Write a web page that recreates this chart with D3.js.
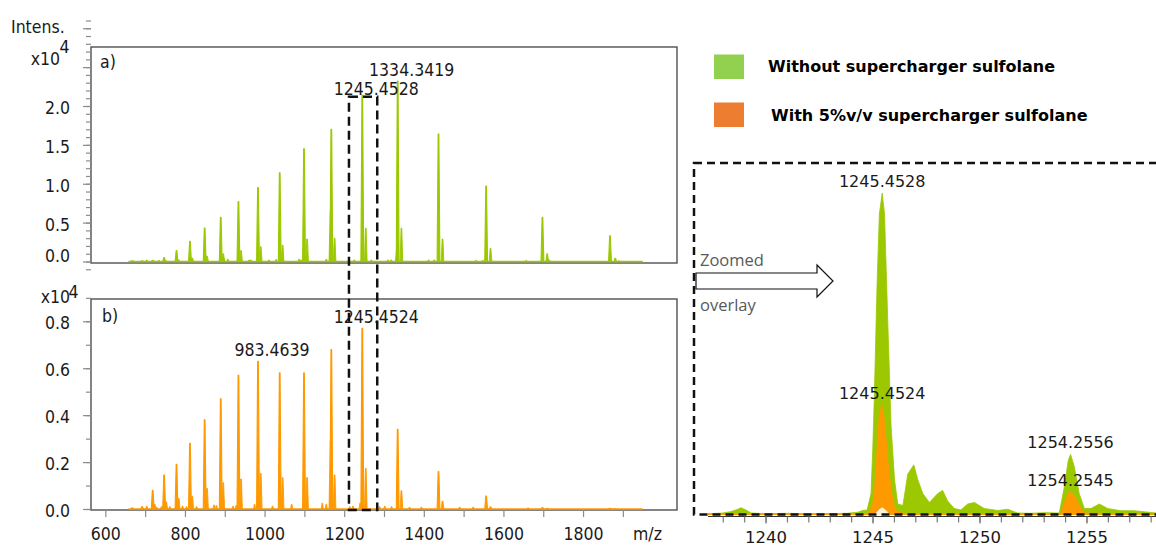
<!DOCTYPE html>
<html>
<head>
<meta charset="utf-8">
<script src="https://cdn.jsdelivr.net/npm/d3@7"></script>
<style>
  html, body { margin: 0; padding: 0; background: #fff; }
  svg { display: block; }
  .ms { font-family: "DejaVu Sans Condensed", "Liberation Sans", sans-serif; font-size: 17.5px; fill: #1a1a1a; }
  .zoomtxt { font-family: "DejaVu Sans", sans-serif; font-size: 16px; fill: #1a1a1a; }
  .legend { font-family: "DejaVu Sans", sans-serif; font-weight: bold; font-size: 16px; fill: #000; }
  .note { font-family: "Open Sans", sans-serif; font-size: 16.5px; fill: #595959; }
</style>
</head>
<body>
<svg id="chart" width="1156" height="545"></svg>
<script>
// ---------- Overview spectra: charge-state series z = 28 ... 10 (m/z, intensity x10^4) ----------
const mzA = [667.68, 692.37, 718.96, 747.68, 778.79, 812.60, 849.49, 889.90, 934.34, 983.46,
             1038.04, 1099.05, 1167.68, 1245.4528, 1334.3419, 1436.91, 1556.56, 1697.98, 1867.68];
const intensA = [0.01, 0.01, 0.015, 0.05, 0.14, 0.26, 0.43, 0.57, 0.77, 0.95,
                 1.14, 1.45, 1.70, 2.14, 2.32, 1.64, 0.97, 0.57, 0.33];

const mzB = [667.68, 692.37, 718.96, 747.68, 778.79, 812.60, 849.49, 889.90, 934.34, 983.4639,
             1038.04, 1099.05, 1167.68, 1245.4524, 1334.34, 1436.91, 1556.56, 1697.98, 1867.68];
const intensB = [0.005, 0.01, 0.08, 0.145, 0.19, 0.28, 0.38, 0.47, 0.57, 0.63,
                 0.58, 0.58, 0.68, 0.77, 0.34, 0.16, 0.055, 0.006, 0.003];

// adduct series (+132 Da) for z = 26 ... 10
const mzAdductA = [724.04, 752.96, 784.29, 818.34, 855.49, 896.19, 940.94, 990.41, 1045.38,
                   1106.82, 1175.93, 1254.2556, 1343.77, 1447.07, 1567.56, 1709.98, 1880.88];
const adductA = [0.005, 0.01, 0.02, 0.045, 0.07, 0.10, 0.14, 0.19, 0.21,
                 0.29, 0.30, 0.43, 0.43, 0.29, 0.17, 0.10, 0.045];
const mzAdductB = [724.04, 752.96, 784.29, 818.34, 855.49, 896.19, 940.94, 990.41, 1045.38,
                   1106.82, 1175.93, 1254.2545, 1343.77, 1447.07, 1567.56, 1709.98, 1880.88];
const adductB = [0.02, 0.03, 0.045, 0.055, 0.088, 0.112, 0.128, 0.152, 0.134,
                 0.134, 0.145, 0.173, 0.078, 0.034, 0.01, 0.004, 0.002];

// unresolved shoulders on the low-m/z side
const mzShoulderA = [1165.9, 1332.6];
const shoulderA = [0.65, 0.16];
const mzShoulderB = [1165.9];
const shoulderB = [0.29];

// small background signals
const mzNoiseA = [704, 735, 898, 908, 961, 966, 1011, 1029, 1087, 1092, 1155, 1225, 1268,
                  1310, 1318, 1412, 1426, 1531, 1548, 1657, 1715, 1890];
const noiseA = [0.02, 0.015, 0.04, 0.03, 0.02, 0.02, 0.02, 0.025, 0.03, 0.02, 0.03, 0.02, 0.02,
                0.02, 0.02, 0.02, 0.02, 0.015, 0.015, 0.015, 0.02, 0.01];
const mzNoiseB = [704, 729, 741, 762, 794, 804, 829, 873, 879, 921, 929, 975, 1020, 1068,
                  1145, 1155, 1214, 1222, 1240, 1289, 1302, 1319, 1364, 1394, 1490, 1524, 1662];
const noiseB = [0.012, 0.008, 0.01, 0.01, 0.012, 0.01, 0.01, 0.017, 0.015, 0.012, 0.015, 0.02, 0.012, 0.02,
                0.025, 0.02, 0.01, 0.012, 0.025, 0.01, 0.012, 0.01, 0.008, 0.008, 0.008, 0.008, 0.005];

const acquiredRange = [658, 1950];   // m/z span of the recorded trace

const peakLabelsA = ["1334.3419", "1245.4528"];
const peakLabelsB = ["983.4639", "1245.4524"];

// m/z window and height of the region shown in the zoomed overlay
const zoomWindowMz = [1212, 1283];
const zoomWindowTop = 2.12;

// axis ticks
const ticksA = [0.0, 0.5, 1.0, 1.5, 2.0];
const ticksB = [0.0, 0.2, 0.4, 0.6, 0.8];
const ticksMz = [600, 800, 1000, 1200, 1400, 1600, 1800];
const ticksMzMinor = [700, 900, 1100, 1300, 1500, 1700, 1900];
const ticksZoom = [1240, 1245, 1250, 1255];

// ---------- Zoomed overlay: profile data around the z = 15 ion ----------
const zoomGreenMz = [1237.31, 1238.0, 1238.4, 1238.70, 1238.85, 1239.09, 1239.32, 1240.0, 1241.0, 1242.0,
  1243.0, 1243.8, 1244.3, 1244.54, 1244.75, 1244.93, 1245.01, 1245.08, 1245.21, 1245.32,
  1245.4528, 1245.56, 1245.72, 1245.87, 1246.03, 1246.18, 1246.42, 1246.65, 1246.93, 1247.12,
  1247.35, 1247.66, 1248.05, 1248.28, 1248.51, 1248.82, 1249.13, 1249.45, 1249.76, 1250.22,
  1250.85, 1251.32, 1251.78, 1252.41, 1253.03, 1253.73, 1253.96, 1254.15, 1254.2556, 1254.43,
  1254.66, 1254.90, 1255.21, 1255.60, 1255.99, 1256.61, 1257.23, 1258.25];
const zoomGreenInt = [0.005, 0.01, 0.02, 0.035, 0.045, 0.03, 0.01, 0.005, 0.008, 0.005,
  0.006, 0.008, 0.015, 0.027, 0.03, 0.14, 0.43, 0.76, 1.52, 2.0,
  2.14, 2.0, 1.25, 0.58, 0.23, 0.07, 0.06, 0.27, 0.33, 0.23,
  0.14, 0.08, 0.14, 0.16, 0.09, 0.04, 0.03, 0.07, 0.08, 0.04,
  0.027, 0.035, 0.01, 0.008, 0.012, 0.01, 0.18, 0.36, 0.40, 0.32,
  0.14, 0.04, 0.04, 0.07, 0.04, 0.025, 0.025, 0.01];

const zoomOrangeMz = [1237.31, 1240.0, 1243.0, 1244.6, 1244.85, 1245.00, 1245.08, 1245.21, 1245.32, 1245.4524,
  1245.56, 1245.72, 1245.87, 1246.03, 1246.18, 1246.5, 1248.0, 1250.0, 1252.0, 1253.80,
  1254.00, 1254.15, 1254.2545, 1254.43, 1254.66, 1254.90, 1256.0, 1258.25];
const zoomOrangeInt = [0.004, 0.005, 0.005, 0.006, 0.01, 0.07, 0.14, 0.43, 0.67, 0.73,
  0.63, 0.36, 0.16, 0.05, 0.015, 0.008, 0.005, 0.006, 0.005, 0.005,
  0.09, 0.14, 0.15, 0.13, 0.06, 0.01, 0.006, 0.004];

const zoomBlankMz = [1245.1, 1245.3, 1245.45, 1245.6, 1245.8];
const zoomBlankInt = [0, 0.03, 0.045, 0.03, 0];

const zoomLabelsGreen = ["1245.4528", "1254.2556"];
const zoomLabelsOrange = ["1245.4524", "1254.2545"];

const legendItems = ["Without supercharger sulfolane", "With 5%v/v supercharger sulfolane"];
const legendColors = ["#92d050", "#ed7d31"];

// ---------- layout ----------
const GREEN = "#9bc800", ORANGE = "#ff9900";
const frameA = { x0: 91, x1: 677, y0: 47, y1: 263 };
const frameB = { x0: 91, x1: 677, y0: 299, y1: 510 };
const zoomBox = { x0: 694, y0: 163, x1: 1162, y1: 514.5 };

const svg = d3.select("#chart");

const xOver = d3.scaleLinear().domain([564, 2036]).range([frameA.x0, frameA.x1]);
const yA = d3.scaleLinear().domain([0, 2]).range([261.5, 106]);
const yB = d3.scaleLinear().domain([0, 0.8]).range([509, 321.3]);
const xZoom = d3.scaleLinear().domain([1237.31, 1258.25]).range([708, 1156]);
const yZoom = d3.scaleLinear().domain([0, 2.14]).range([514.5, 193]);

// frames
[frameA, frameB].forEach(f => {
  svg.append("rect").attr("x", f.x0).attr("y", f.y0)
    .attr("width", f.x1 - f.x0).attr("height", f.y1 - f.y0)
    .attr("fill", "none").attr("stroke", "#505050").attr("stroke-width", 1.4);
});

// one centroid peak as a narrow spike
function spike(y, mz, v, hw) {
  const x = xOver(mz), b = y(0), t = y(v);
  return `M${x - hw},${b}L${x - 0.35},${t}L${x + 0.35},${t}L${x + hw},${b}Z`;
}

function drawSpectrum(y, color, sets) {
  const g = svg.append("g");
  g.append("line")
    .attr("x1", xOver(acquiredRange[0])).attr("x2", xOver(acquiredRange[1]))
    .attr("y1", y(0)).attr("y2", y(0))
    .attr("stroke", color).attr("stroke-width", 1.6);
  sets.forEach(s => {
    g.selectAll(null).data(d3.zip(s.mz, s.v)).join("path")
      .attr("d", d => spike(y, d[0], d[1], s.hw))
      .attr("fill", color).attr("stroke", color)
      .attr("stroke-width", s.sw).attr("stroke-linejoin", "round");
  });
  return g;
}

drawSpectrum(yA, GREEN, [
  { mz: mzNoiseA, v: noiseA, hw: 1.0, sw: 0.8 },
  { mz: mzShoulderA, v: shoulderA, hw: 1.6, sw: 0.8 },
  { mz: mzAdductA, v: adductA, hw: 1.3, sw: 0.9 },
  { mz: mzA, v: intensA, hw: 1.4, sw: 1.1 }
]);
drawSpectrum(yB, ORANGE, [
  { mz: mzNoiseB, v: noiseB, hw: 1.0, sw: 0.8 },
  { mz: mzShoulderB, v: shoulderB, hw: 1.6, sw: 0.8 },
  { mz: mzAdductB, v: adductB, hw: 1.3, sw: 0.9 },
  { mz: mzB, v: intensB, hw: 1.4, sw: 1.1 }
]);

// intensity axes
function intensityAxis(scale, minor, major, labels, floorY) {
  const x0 = frameA.x0;
  svg.append("g").attr("transform", `translate(${x0},0)`)
    .call(d3.axisLeft(scale).tickValues(minor).tickSize(5).tickFormat(""))
    .call(a => a.select(".domain").remove())
    .call(a => a.selectAll("line").attr("stroke", "#8c8c8c").attr("stroke-width", 1.2));
  const g = svg.append("g").attr("transform", `translate(${x0},0)`)
    .call(d3.axisLeft(scale).tickValues(major).tickSize(8).tickPadding(13)
      .tickFormat(d => labels.some(l => Math.abs(l - d) < 1e-9) ? d3.format(".1f")(d) : ""))
    .call(a => a.select(".domain").remove())
    .call(a => a.selectAll("line").attr("stroke", "#8c8c8c").attr("stroke-width", 1.2));
  g.selectAll("text")
    .attr("class", "ms").attr("fill", null)
    .attr("dy", null)
    .attr("y", d => Math.min(7.5, floorY - scale(d)));
  g.attr("font-size", null).attr("font-family", null);
}
const minorA = d3.range(-1, 32).map(i => i / 10);
const majorA = d3.range(0, 7).map(i => i / 2);
intensityAxis(yA, minorA, majorA, ticksA, frameA.y1 - 2);
const minorB = d3.range(0, 10).map(i => i / 10);
const majorB = d3.range(0, 5).map(i => i / 5);
intensityAxis(yB, minorB, majorB, ticksB, 999);

// m/z axis under panel b
{
  svg.append("g").attr("transform", `translate(0,${frameB.y1})`)
    .call(d3.axisBottom(xOver).tickValues(ticksMzMinor).tickSize(7).tickFormat(""))
    .call(a => a.select(".domain").remove())
    .call(a => a.selectAll("line").attr("stroke", "#8c8c8c").attr("stroke-width", 1.2));
  const g = svg.append("g").attr("transform", `translate(0,${frameB.y1})`)
    .call(d3.axisBottom(xOver).tickValues(ticksMz).tickSize(7).tickFormat(d3.format("d")))
    .call(a => a.select(".domain").remove())
    .call(a => a.selectAll("line").attr("stroke", "#8c8c8c").attr("stroke-width", 1.2));
  g.attr("font-size", null).attr("font-family", null);
  g.selectAll("text").attr("class", "ms").attr("fill", null).attr("dy", null).attr("y", 30);
  svg.append("text").attr("class", "ms").attr("x", 633).attr("y", frameB.y1 + 30).text("m/z");
}

// axis titles and panel tags
svg.append("text").attr("class", "ms").attr("x", 11).attr("y", 32.5).text("Intens.");
svg.append("text").attr("class", "ms").attr("x", 60).attr("y", 65).attr("text-anchor", "end").text("x10");
svg.append("text").attr("class", "ms").attr("x", 59.5).attr("y", 53).text("4");
svg.append("text").attr("class", "ms").attr("x", 70).attr("y", 303).attr("text-anchor", "end").text("x10");
svg.append("text").attr("class", "ms").attr("x", 68.5).attr("y", 298).text("4");
svg.append("text").attr("class", "ms").attr("x", 100).attr("y", 68).text("a)");
svg.append("text").attr("class", "ms").attr("x", 102).attr("y", 322).text("b)");

// peak annotations (centroid m/z); a label that would collide with an
// earlier one is dropped by one line
function annotate(labels, mzs, vals, y) {
  const placed = [];
  labels.forEach(lbl => {
    const i = mzs.findIndex(m => Math.abs(m - +lbl) < 1e-6);
    const t = svg.append("text").attr("class", "ms")
      .attr("x", xOver(mzs[i])).attr("dx", 14)
      .attr("text-anchor", "middle").text(lbl);
    let base = y(vals[i]) - 5;
    t.attr("y", base);
    let bb = t.node().getBBox();
    placed.forEach(p => {
      const overlapX = bb.x < p.x + p.width && p.x < bb.x + bb.width;
      const overlapY = bb.y < p.y + p.height && p.y < bb.y + bb.height;
      if (overlapX && overlapY) {
        base = p.base + 19;
        t.attr("y", base);
        bb = t.node().getBBox();
      }
    });
    placed.push({ x: bb.x, y: bb.y, width: bb.width, height: bb.height, base });
  });
}
annotate(peakLabelsA, mzA, intensA, yA);
annotate(peakLabelsB, mzB, intensB, yB);

// dashed window spanning both panels
svg.append("rect")
  .attr("x", xOver(zoomWindowMz[0])).attr("y", yA(zoomWindowTop))
  .attr("width", xOver(zoomWindowMz[1]) - xOver(zoomWindowMz[0]))
  .attr("height", frameB.y1 - yA(zoomWindowTop))
  .attr("fill", "none").attr("stroke", "#111").attr("stroke-width", 2.5)
  .attr("stroke-dasharray", "9,5");

// ---------- zoomed overlay ----------
const area = d3.area().x(d => xZoom(d[0])).y0(yZoom(0)).y1(d => yZoom(d[1]));
const gz = svg.append("g");
[[zoomGreenMz, zoomGreenInt, GREEN], [zoomOrangeMz, zoomOrangeInt, ORANGE], [zoomBlankMz, zoomBlankInt, "#fbf1e1"]]
  .forEach(([m, v, c]) => {
    gz.append("path").datum(d3.zip(m, v)).attr("d", area)
      .attr("fill", c).attr("stroke", c).attr("stroke-width", 0.8);
  });

// overlay m/z axis
{
  const ay = 516.5;
  svg.append("line").attr("x1", xZoom.range()[0]).attr("x2", xZoom.range()[1])
    .attr("y1", ay).attr("y2", ay).attr("stroke", "#333").attr("stroke-width", 1);
  svg.append("g").attr("transform", `translate(0,${ay})`)
    .call(d3.axisBottom(xZoom).tickValues(d3.range(1238, 1259)).tickSize(6).tickFormat(""))
    .call(a => a.select(".domain").remove())
    .call(a => a.selectAll("line").attr("stroke", "#7a7a7a").attr("stroke-width", 1.2));
  const g = svg.append("g").attr("transform", `translate(0,${ay})`)
    .call(d3.axisBottom(xZoom).tickValues(ticksZoom).tickSize(7).tickFormat(d3.format("d")))
    .call(a => a.select(".domain").remove())
    .call(a => a.selectAll("line").attr("stroke", "#7a7a7a").attr("stroke-width", 1.2));
  g.attr("font-size", null).attr("font-family", null);
  g.selectAll("text").attr("class", "zoomtxt").attr("fill", null)
    .style("font-size", "16.5px").attr("dy", null).attr("y", 26);
}

function annotateZoom(labels, mzs, vals) {
  labels.forEach(lbl => {
    const i = mzs.findIndex(m => Math.abs(m - +lbl) < 1e-6);
    svg.append("text").attr("class", "zoomtxt")
      .attr("x", xZoom(mzs[i])).attr("y", yZoom(vals[i]) - 6)
      .attr("text-anchor", "middle").text(lbl);
  });
}
annotateZoom(zoomLabelsGreen, zoomGreenMz, zoomGreenInt);
annotateZoom(zoomLabelsOrange, zoomOrangeMz, zoomOrangeInt);

// dashed frame of the overlay
svg.append("rect")
  .attr("x", zoomBox.x0).attr("y", zoomBox.y0)
  .attr("width", zoomBox.x1 - zoomBox.x0).attr("height", zoomBox.y1 - zoomBox.y0)
  .attr("fill", "none").attr("stroke", "#111").attr("stroke-width", 2.5)
  .attr("stroke-dasharray", "8,5");

// "Zoomed overlay" arrow
{
  const ax0 = 696, ax1 = 817, tip = 833, cy = 281, body = 8, head = 16;
  const pts = [[ax0, cy - body], [ax1, cy - body], [ax1, cy - head], [tip, cy],
               [ax1, cy + head], [ax1, cy + body], [ax0, cy + body]];
  svg.append("path").attr("d", d3.line()(pts) + "Z")
    .attr("fill", "#fff").attr("stroke", "#111").attr("stroke-width", 1.2);
  svg.append("text").attr("class", "note").attr("x", 700).attr("y", 265.5).text("Zoomed");
  svg.append("text").attr("class", "note").attr("x", 700).attr("y", 311).text("overlay");
}

// legend
legendItems.forEach((t, i) => {
  const y = 54.5 + i * 48;
  svg.append("rect").attr("x", 714).attr("y", y).attr("width", 30).attr("height", 24.5)
    .attr("fill", legendColors[i]);
  svg.append("text").attr("class", "legend").attr("x", 768 + i * 3).attr("y", y + 17.5 + i * 1).text(t);
});
</script>
</body>
</html>
